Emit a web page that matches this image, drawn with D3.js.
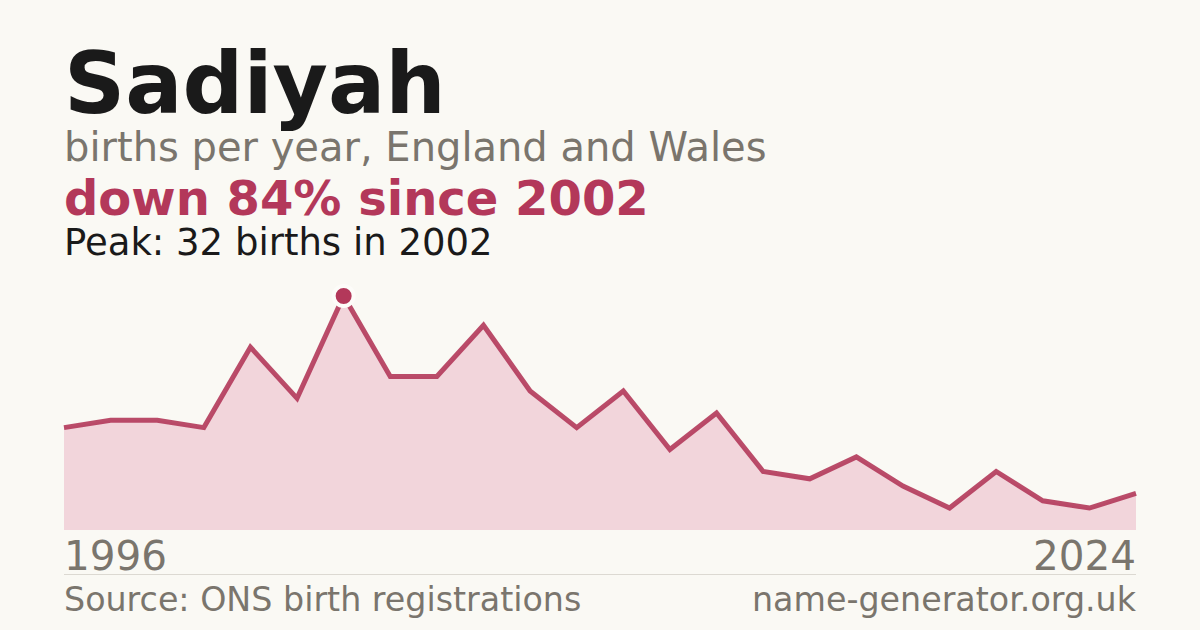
<!DOCTYPE html>
<html>
<head>
<meta charset="utf-8">
<script src="https://cdn.jsdelivr.net/npm/d3@7"></script>
<style>
  html, body { margin: 0; padding: 0; background: #faf9f4; }
  svg { display: block; font-family: "DejaVu Sans", sans-serif; }
</style>
</head>
<body>
<svg id="chart" width="1200" height="630"></svg>
<script>
// Births per year (years with too few births are not published)
const years = ["1996", "1997", "1998", "1999", "2000", "2001", "2002", "2003",
  "2004", "2005", "2006", "2007", "2008", "2009", "2010", "2011", "2012",
  "2013", "2014", "2016", "2018", "2020", "2022", "2024"];
const births = [14, 15, 15, 14, 25, 18, 32, 21, 21, 28, 19, 14, 19, 11, 16,
  8, 7, 10, 6, 3, 8, 4, 3, 5];

const name = "Sadiyah";
const peakYear = "2002";
const peakValue = 32;

const accent = "#b3385a";
const grey = "#7a756d";

const view = { width: 1200, height: 630, left: 64, right: 1136, top: 296, bottom: 530 };

const svg = d3.select("#chart");

svg.append("rect")
  .attr("width", view.width)
  .attr("height", view.height)
  .attr("fill", "#faf9f4");

// Header texts
svg.append("text")
  .attr("x", view.left).attr("y", 113)
  .attr("font-size", 85).attr("font-weight", "bold")
  .attr("fill", "#1a1a1a")
  .text(name);

svg.append("text")
  .attr("x", view.left).attr("y", 161)
  .attr("font-size", 40)
  .attr("fill", grey)
  .text("births per year, England and Wales");

const last = births[births.length - 1];
const drop = Math.round((1 - last / peakValue) * 100);

svg.append("text")
  .attr("x", view.left).attr("y", 215)
  .attr("font-size", 48).attr("font-weight", "bold")
  .attr("fill", accent)
  .text(`down ${drop}% since ${peakYear}`);

svg.append("text")
  .attr("x", view.left).attr("y", 255)
  .attr("font-size", 37)
  .attr("fill", "#1a1a1a")
  .text(`Peak: ${peakValue} births in ${peakYear}`);

// Scales
const x = d3.scalePoint()
  .domain(years)
  .range([view.left, view.right]);

const y = d3.scaleLinear()
  .domain([0, d3.max(births)])
  .range([view.bottom, view.top]);

const data = years.map((yr, i) => ({ year: yr, value: births[i] }));

const area = d3.area()
  .x(d => x(d.year))
  .y0(y(0))
  .y1(d => y(d.value));

const line = d3.line()
  .x(d => x(d.year))
  .y(d => y(d.value));

svg.append("path")
  .datum(data)
  .attr("d", area)
  .attr("fill", "#f2d5db");

svg.append("path")
  .datum(data)
  .attr("d", line)
  .attr("fill", "none")
  .attr("stroke", accent)
  .attr("stroke-width", 5)
  .attr("stroke-opacity", 0.9)
  .attr("stroke-linejoin", "miter");

// Peak marker
const peak = data.find(d => d.year === peakYear);
svg.append("circle")
  .attr("cx", x(peak.year))
  .attr("cy", y(peak.value))
  .attr("r", 10)
  .attr("fill", accent)
  .attr("stroke", "#fdfcf9")
  .attr("stroke-width", 4);

// Year end labels
svg.append("text")
  .attr("x", view.left).attr("y", 570)
  .attr("font-size", 40.5)
  .attr("fill", grey)
  .text(years[0]);

svg.append("text")
  .attr("x", view.right).attr("y", 570)
  .attr("font-size", 40.5)
  .attr("text-anchor", "end")
  .attr("fill", grey)
  .text(years[years.length - 1]);

// Footer
svg.append("line")
  .attr("x1", view.left).attr("x2", view.right)
  .attr("y1", 574.5).attr("y2", 574.5)
  .attr("stroke", "#dcd9d2")
  .attr("stroke-width", 1);

svg.append("text")
  .attr("x", view.left).attr("y", 611)
  .attr("font-size", 33.3)
  .attr("fill", grey)
  .text("Source: ONS birth registrations");

svg.append("text")
  .attr("x", view.right).attr("y", 611)
  .attr("font-size", 33.3)
  .attr("text-anchor", "end")
  .attr("fill", grey)
  .text("name-generator.org.uk");
</script>
</body>
</html>
